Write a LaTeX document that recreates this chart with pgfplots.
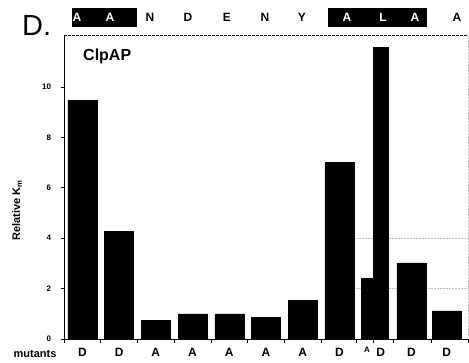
\documentclass[border=0pt]{standalone}
\usepackage{fontspec}
\setmainfont{Liberation Sans}
\usepackage{pgfplots}
\pgfplotsset{compat=1.18}
\begin{document}
\begin{tikzpicture}
\useasboundingbox (-64pt,-23pt) rectangle (405pt,339pt);
\begin{axis}[
  at={(0pt,0pt)}, anchor=south west,
  width=404pt, height=304pt, scale only axis,
  xmin=-0.5, xmax=10.5, ymin=0, ymax=12.06,
  axis line style={draw=none},
  xtick pos=lower, ytick pos=left,
  clip=false,
  ybar, bar shift=0pt,
  /pgf/number format/assume math mode=true,
  ytick={0,2,4,6,8,10},
  yticklabel style={font=\fontsize{8}{9}\selectfont\bfseries, xshift=-6pt},
  xtick={-0.5,0.5,1.5,2.5,3.5,4.5,5.5,6.5,7.45,7.91,8.46,9.5,10.5},
  xticklabels={},
  tick align=outside,
  major tick length=3.5pt,
  tick style={black, line width=0.7pt},
  extra x ticks={0,1,2,3,4,5,6,7,7.75,8.12,8.96,9.92},
  extra x tick labels={D,D,A,A,A,A,A,D,{\fontsize{8}{8}\selectfont\raisebox{4pt}{A}},D,D,D},
  extra x tick style={major tick length=0pt,
    xticklabel style={font=\fontsize{12}{12}\selectfont\bfseries, anchor=base, yshift=-17pt}},
]
\draw[gray!50, densely dotted, line width=0.5pt] (axis cs:7.4,4) -- (axis cs:10.5,4);
\draw[gray!50, densely dotted, line width=0.5pt] (axis cs:7.4,2) -- (axis cs:10.5,2);
\addplot[fill=black, draw=black, bar width=0.79] coordinates {
  (0,9.47) (1,4.26) (2,0.73) (3,1.0) (4,1.0) (5,0.86) (6,1.54) (7,7.0) (8.96,3.02) (9.92,1.12)
};
\addplot[fill=black, draw=black, bar width=0.32] coordinates {(7.75,2.42)};
\addplot[fill=black, draw=black, bar width=0.40] coordinates {(8.12,11.56)};
\draw[black, line width=0.9pt] (rel axis cs:0,0) -- (rel axis cs:1,0);
\draw[black, line width=0.9pt] (rel axis cs:0,0) -- (rel axis cs:0,1);
\draw[black, line width=0.8pt, dash pattern=on 3pt off 1pt] (rel axis cs:0,1) -- (rel axis cs:1,1);
\draw[gray!50, densely dotted, line width=0.5pt] (rel axis cs:1,0) -- (rel axis cs:1,1);
\end{axis}
% header
\node[anchor=base west, font=\fontsize{29}{29}\selectfont, inner sep=0pt] at (-42pt,303pt) {D.};
\fill[black] (8pt,312pt) rectangle (73pt,331pt);
\fill[black] (264pt,312pt) rectangle (363pt,331pt);
\foreach \x/\l/\c in {13/A/white,46/A/white,86/N/black,124/D/black,163/E/black,201/N/black,238/Y/black,283/A/white,319/L/white,351/A/white,393/A/black}
  \node[font=\fontsize{12}{12}\selectfont\bfseries, text=\c, inner sep=0pt] at (\x pt,321.5pt) {\l};
\node[anchor=base west, font=\fontsize{16}{16}\selectfont\bfseries, inner sep=0pt] at (19pt,278pt) {ClpAP};
\node[anchor=base, font=\fontsize{11}{11}\selectfont\bfseries, inner sep=0pt] at (-29pt,-18pt) {mutants};
\node[rotate=90, font=\fontsize{11}{11}\selectfont\bfseries, inner sep=0pt] at (-47pt,129pt) {Relative K\textsubscript{m}};
\end{tikzpicture}
\end{document}
